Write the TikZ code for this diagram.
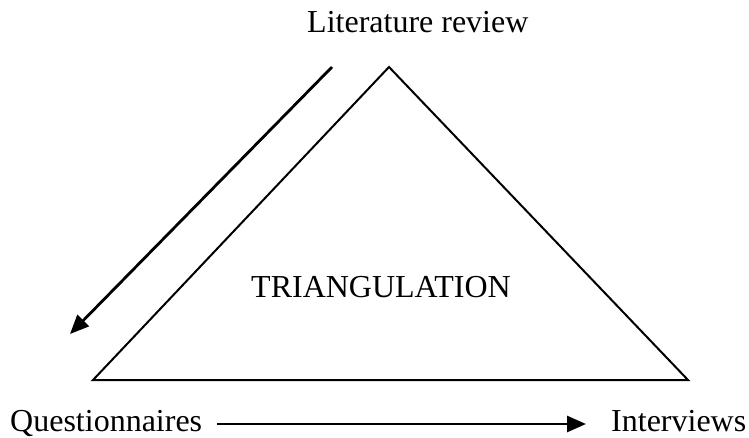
\documentclass[tikz,border=0pt]{standalone}
\usepackage{fontspec}
\setmainfont{Liberation Serif}
\usetikzlibrary{arrows.meta}
\begin{document}
\begin{tikzpicture}[x=1pt,y=-1pt,
  lbl/.style={anchor=base west,inner sep=0pt,font=\fontsize{32}{37}\selectfont},
  tri/.style={line width=2pt,line join=miter},
  arr/.style={line width=2.8pt,-{Triangle[length=19pt,width=16pt]}}]
\useasboundingbox (0,0) rectangle (749,437);
\node[lbl] (lit) at (307,32) {Literature review};
\node[lbl] (que) at (10,431) {Questionnaires};
\node[lbl] (int) at (611,431) {Interviews};
\node[lbl] (tri) at (251,297) {TRIANGULATION};
\coordinate (apex) at (389,67);
\coordinate (bl) at (93,380);
\coordinate (br) at (688,380);
\draw[tri] (apex) -- (bl) -- (br) -- cycle;
\coordinate (a1) at (332,67);
\coordinate (a2) at (70,334);
\draw[arr] (a1) -- (a2);
\coordinate (b1) at (217,424);
\coordinate (b2) at (586,424);
\draw[arr] (b1) -- (b2);
\end{tikzpicture}
\end{document}
